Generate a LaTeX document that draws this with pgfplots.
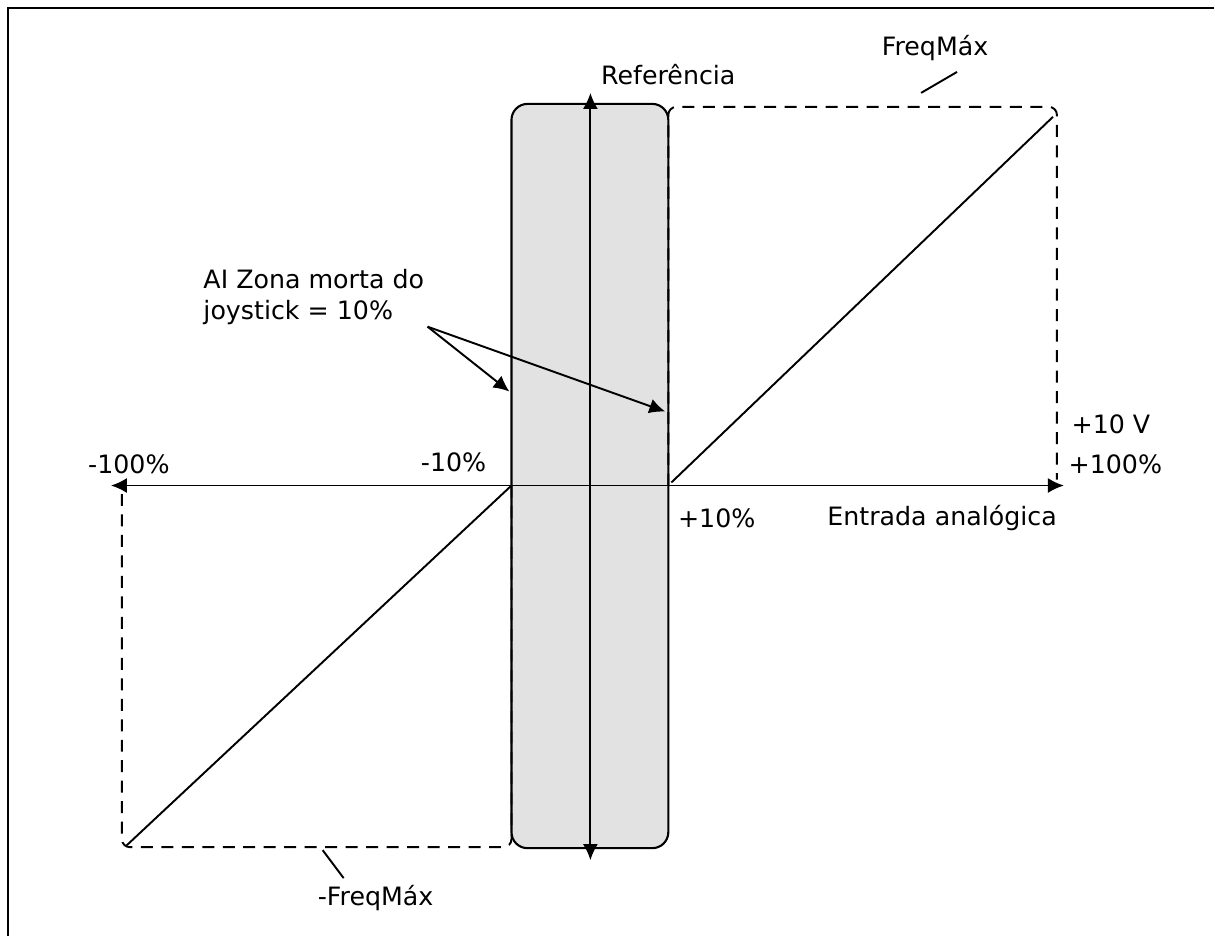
\documentclass[border=0pt]{standalone}
\usepackage{pgfplots}
\pgfplotsset{compat=1.18}
\usepackage{fontspec}
\setmainfont{DejaVu Sans}
\usetikzlibrary{arrows.meta}
\definecolor{zonegray}{HTML}{E2E2E2}

\begin{document}
\begin{tikzpicture}
\begin{axis}[
    width=121.5mm, height=93.7mm,
    scale only axis,
    hide axis,
    xmin=0, xmax=1215,
    ymin=0, ymax=937,
    y dir=reverse,
    clip=false,
    cycle list={{black, mark=none}},
    every axis plot/.append style={mark=none, line width=0.55pt},
    dashbox/.style={dash pattern=on 1.2mm off 0.85mm, rounded corners=0.8mm},
    arr/.style={-{Latex[length=1.6mm,width=1.5mm]}},
    darr/.style={{Latex[length=1.6mm,width=1.5mm]}-{Latex[length=1.6mm,width=1.5mm]}},
]
\path (axis cs:0,0) rectangle (axis cs:1215,937);
% frame (top and left edge)
\addplot[black, line width=0.7pt] coordinates {(8,937) (8,8) (1215,8)};

% dead zone
\addplot[fill=zonegray, draw=black, line width=0.6pt, rounded corners=1.6mm]
    coordinates {(590,104) (669,104) (669,849) (512,849) (512,104)} -- cycle;

% axes
\addplot[black, darr] coordinates {(111,486) (1065,486)};
\addplot[black, darr] coordinates {(591,93) (591,861)};

% dashed boxes
\addplot[black, dashbox] coordinates {(669,486) (669,107) (1058,107) (1058,480)};
\addplot[black, dashbox] coordinates {(512,486) (512,848) (122,848) (122,490)};

% reference lines
\addplot[black] coordinates {(672,483) (1054,117)};
\addplot[black] coordinates {(512,486) (127,846)};

% leaders
\addplot[black] coordinates {(922,93) (958,72)};
\addplot[black] coordinates {(323,851) (344,879)};
\addplot[black, arr] coordinates {(428,327) (510,392)};
\addplot[black, arr] coordinates {(428,327) (666,412)};

\begin{scope}[every node/.style={font=\fontsize{7.2}{8.8}\selectfont, inner sep=0pt}]
\node at (axis cs:669,75) {Referência};
\node at (axis cs:936,48) {FreqMáx};
\node at (axis cs:376,899) {-FreqMáx};
\node[anchor=west, align=left] at (axis cs:203,297) {AI Zona morta do\\joystick = 10\%};
\node at (axis cs:454,463) {-10\%};
\node at (axis cs:129,465) {-100\%};
\node[anchor=west] at (axis cs:678,519) {+10\%};
\node at (axis cs:943,519) {Entrada analógica};
\node[anchor=west] at (axis cs:1072,425) {+10 V};
\node[anchor=west] at (axis cs:1069,465) {+100\%};
\end{scope}
\end{axis}
\end{tikzpicture}
\end{document}
